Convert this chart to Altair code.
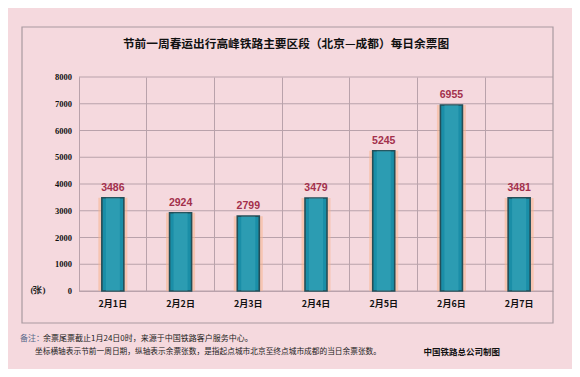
import altair as alt
import pandas as pd

dates = ["2月1日", "2月2日", "2月3日", "2月4日", "2月5日", "2月6日", "2月7日"]
tickets = [3486, 2924, 2799, 3479, 5245, 6955, 3481]
y_ticks = [0, 1000, 2000, 3000, 4000, 5000, 6000, 7000, 8000]

title_text = "节前一周春运出行高峰铁路主要区段（北京—成都）每日余票图"
note_head = "备注："
note_line1 = "余票尾票截止1月24日0时，来源于中国铁路客户服务中心。"
note_line2 = "坐标横轴表示节前一周日期，纵轴表示余票张数，是指起点城市北京至终点城市成都的当日余票张数。"
credit = "中国铁路总公司制图"
unit = "(张)"

df = pd.DataFrame({"date": dates, "tickets": tickets})
tdf = pd.DataFrame({"tickets": y_ticks})

BG = "#f5d9de"
GRID = "#b9a2ab"
CJK = "Noto Sans CJK SC"

yscale = alt.Scale(domain=[0, 8000], nice=False)

x_enc = alt.X("date:N", sort=dates,
              scale=alt.Scale(paddingInner=0, paddingOuter=0),
              axis=alt.Axis(title=None, labelAngle=0, labelFont=CJK, labelFontWeight="bold",
                            labelFontSize=9, labelColor="#111", labelPadding=8,
                            ticks=False, grid=True, bandPosition=0, gridColor=GRID,
                            gridWidth=1, domainColor=GRID))
y_enc = alt.Y("tickets:Q", scale=yscale,
              axis=alt.Axis(title=None, labels=False, ticks=False, grid=False,
                            domainColor=GRID))

grid = alt.Chart(tdf).mark_rule(color=GRID, strokeWidth=1).encode(
    y=alt.Y("tickets:Q", scale=yscale), x=alt.value(0), x2=alt.value(474))
ylab = alt.Chart(tdf).mark_text(align="right", baseline="middle", font="Liberation Serif",
                                fontWeight="bold", fontSize=8.5, color="#111").encode(
    y=alt.Y("tickets:Q", scale=yscale), x=alt.value(-7), text="tickets:Q")

base = alt.Chart(df)

glow = base.mark_bar(size=29, color="#f7b58e", opacity=0.55).encode(x=x_enc, y=y_enc)
bars = base.mark_bar(size=22, color="#1a8ea7", stroke="#234e58", strokeWidth=1.6).encode(
    x=x_enc, y=y_enc)
hilite = base.mark_bar(size=14, color="#4fb6c8", opacity=0.35).encode(x=x_enc, y=y_enc)
labels = base.mark_text(baseline="bottom", dy=-5, fontSize=10.5, font="Liberation Sans",
                        fontWeight=600, color="#a3304c").encode(x=x_enc, y=y_enc, text="tickets:Q")

frame = alt.Chart(pd.DataFrame({"k": [0]})).mark_rect(
    fill=None, stroke="#a99aa0", strokeWidth=1.2).encode(
    x=alt.value(-57), x2=alt.value(474), y=alt.value(-50), y2=alt.value(246))

def txt(s, x, y, **kw):
    return alt.Chart(pd.DataFrame({"t": [s]})).mark_text(**kw).encode(
        text="t:N", x=alt.value(x), y=alt.value(y))

title = txt(title_text, 207, -33, font=CJK, fontSize=11.7, fontWeight="bold",
            color="#111", align="center", baseline="middle")
unit_t = txt(unit, -41, 213, font="Liberation Serif", fontSize=9, fontWeight="bold",
             color="#222", align="center", baseline="middle")
n0 = txt(note_head, -59, 262, font=CJK, fontSize=8, color="#5a6a8a",
         align="left", baseline="middle")
n1 = txt(note_line1, -36, 262, font=CJK, fontSize=8, color="#222",
         align="left", baseline="middle")
n2 = txt(note_line2, -44, 275, font=CJK, fontSize=7.7, color="#222",
         align="left", baseline="middle")
cr = txt(credit, 421, 275, font=CJK, fontSize=8.5, fontWeight="bold",
         color="#111", align="right", baseline="middle")

chart = alt.layer(grid, ylab, glow, bars, hilite, labels, frame, title, unit_t,
                  n0, n1, n2, cr).properties(
    width=474, height=214,
    padding={"left": 71, "top": 69, "right": 19, "bottom": 78},
    autosize=alt.AutoSizeParams(type="none"),
    background=BG,
).configure_view(stroke=None, fill=BG)

chart.save("out.html", embed_options={"renderer": "svg", "actions": False})
